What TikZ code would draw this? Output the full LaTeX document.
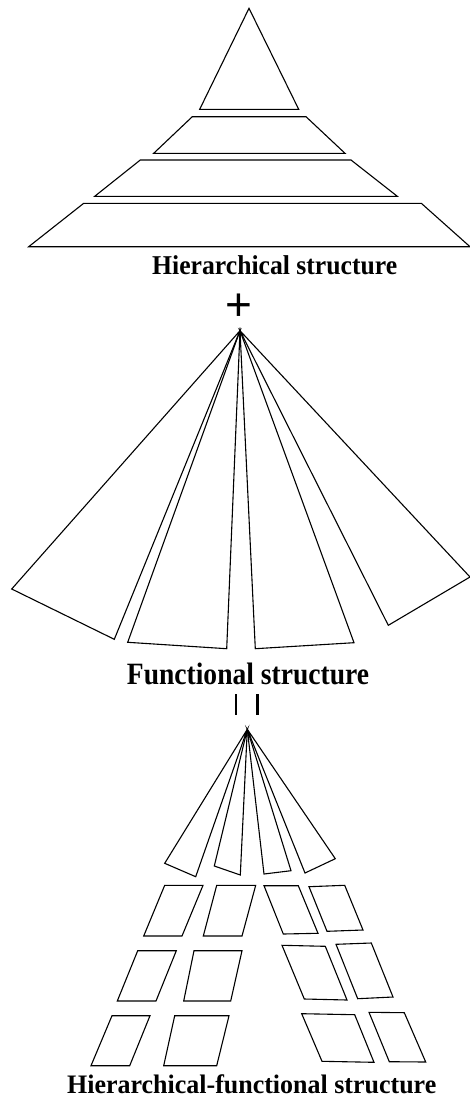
\documentclass[tikz,border=0pt]{standalone}
\usepackage{graphicx}
\usepackage{fontspec}
\setmainfont{Liberation Serif}
\newfontfamily\symfont{Liberation Sans}
\begin{document}
\begin{tikzpicture}[x=1pt,y=-1pt,
  outl/.style={draw=black,line width=1.1pt,line join=miter},
  caption/.style={anchor=base,inner sep=0pt,font=\bfseries}]
\useasboundingbox (0,0) rectangle (470,1100);
% ---------- Hierarchical structure ----------
\draw[outl] (249,8.3) -- (298.7,109.3) -- (199.7,109.3) -- cycle;
\draw[outl] (192.3,116.7) -- (306,116.7) -- (345,153.3) -- (153.7,153.3) -- cycle;
\draw[outl] (140.3,160) -- (351,160) -- (397.3,196.3) -- (94.7,196.3) -- cycle;
\draw[outl] (83.7,203.3) -- (421.3,203.3) -- (470,246.7) -- (28.7,246.7) -- cycle;
\node[caption] (hier) at (274.7,274) {\scalebox{0.944}[1]{\fontsize{27.2}{31}\selectfont Hierarchical structure}};
\node[anchor=center,inner sep=0pt,font=\symfont\fontsize{46}{50}\selectfont] (plus) at (238.5,307.5) {+};
% ---------- Functional structure ----------
\coordinate (fa) at (240,330.7);
\draw[outl] (fa) -- (11.7,589) -- (114.3,639.3) -- cycle;
\draw[outl] (fa) -- (127.7,642.3) -- (226.7,648.7) -- cycle;
\draw[outl] (fa) -- (255.3,648.7) -- (354,642.7) -- cycle;
\draw[outl] (fa) -- (388.3,625.3) -- (470,577) -- cycle;
\node[caption] (func) at (248,684) {\scalebox{0.889}[1]{\fontsize{31}{35}\selectfont Functional structure}};
\draw[line width=2.7pt] (236,694) -- (236,715.3);
\draw[line width=2.7pt] (257.7,694) -- (257.7,715.3);
% ---------- Hierarchical-functional structure ----------
\coordinate (ha) at (247.3,729.3);
\draw[outl] (ha) -- (164.7,863.3) -- (195.7,876.7) -- cycle;
\draw[outl] (ha) -- (214.3,866) -- (240.3,875) -- cycle;
\draw[outl] (ha) -- (264,874) -- (291,870.7) -- cycle;
\draw[outl] (ha) -- (305,873) -- (335.3,858.7) -- cycle;
% row 1
\draw[outl] (164.7,885.3) -- (203,885.3) -- (182,936) -- (143.7,936) -- cycle;
\draw[outl] (216.7,885.3) -- (255.7,885.3) -- (242,936) -- (203.3,936) -- cycle;
\draw[outl] (264,885.7) -- (298.3,885.7) -- (318,933.3) -- (283.3,934) -- cycle;
\draw[outl] (309,886.7) -- (344.7,885.3) -- (363,930) -- (327,931.3) -- cycle;
% row 2
\draw[outl] (137.7,950.7) -- (176.3,950.7) -- (156,1001) -- (117.3,1001) -- cycle;
\draw[outl] (194,950.7) -- (242,950.7) -- (230.7,1001) -- (183.7,1001) -- cycle;
\draw[outl] (282,945.3) -- (325.3,946.3) -- (347,1000) -- (304.3,999) -- cycle;
\draw[outl] (336,944.3) -- (371.3,943) -- (393,997) -- (357.7,998.7) -- cycle;
% row 3
\draw[outl] (112,1015.7) -- (150,1015.7) -- (129.7,1065.7) -- (91,1065.7) -- cycle;
\draw[outl] (174.7,1015.7) -- (229,1015.7) -- (216.7,1065.7) -- (163.7,1065.7) -- cycle;
\draw[outl] (301.7,1013.7) -- (354.7,1014.7) -- (374,1062.3) -- (322,1061.3) -- cycle;
\draw[outl] (369,1012.3) -- (404.3,1012.7) -- (425.7,1062) -- (389.3,1061.7) -- cycle;
\node[caption] (hf) at (251.7,1093) {\scalebox{0.973}[1]{\fontsize{26.7}{30}\selectfont Hierarchical-functional structure}};
\end{tikzpicture}
\end{document}
